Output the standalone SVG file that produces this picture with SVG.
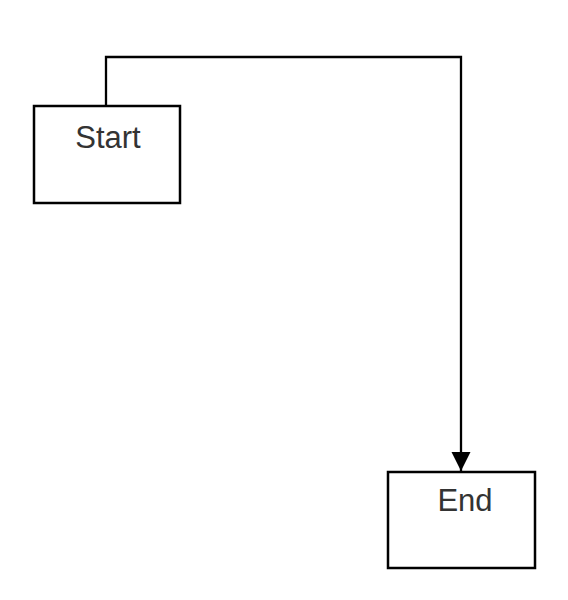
<svg xmlns="http://www.w3.org/2000/svg" width="568" height="600" viewBox="0 0 568 600">
<style>
.node rect{fill:#fff;stroke:#000;stroke-width:2.5}
.node text{font-family:"Liberation Sans",Arial,sans-serif;font-size:31px;fill:#333;text-anchor:middle}
.edge{fill:none;stroke:#000;stroke-width:2.3}
</style>
<defs>
<marker id="arrow" markerUnits="userSpaceOnUse" markerWidth="20" markerHeight="20" refX="19" refY="9.5" orient="auto">
<path d="M0,0 L19,9.5 L0,19 Z" fill="#000"/>
</marker>
</defs>
<rect width="568" height="600" fill="#fff"/>
<g id="connectors">
<path class="edge" d="M106,106 V57 H461 V471" marker-end="url(#arrow)"/>
</g>
<g id="start" class="node">
<rect x="34" y="106" width="146" height="97"/>
<text x="108" y="148">Start</text>
</g>
<g id="end" class="node">
<rect x="388" y="472" width="147" height="96"/>
<text x="465" y="511">End</text>
</g>
</svg>
